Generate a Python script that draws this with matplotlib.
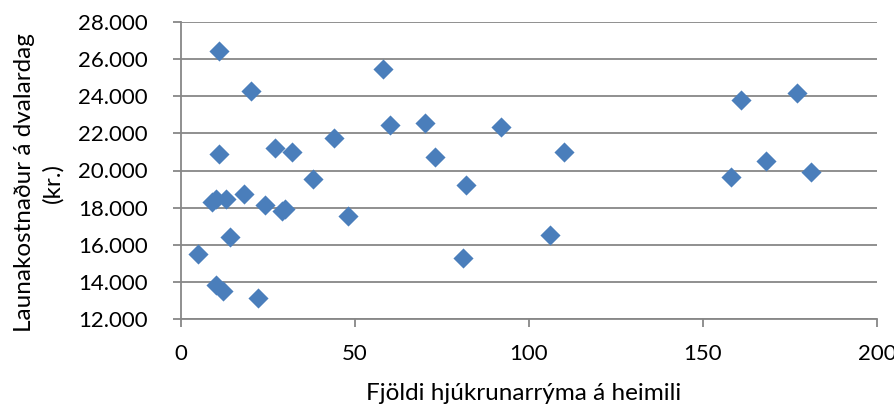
import matplotlib.pyplot as plt
from matplotlib.ticker import FuncFormatter, MultipleLocator

# Fjöldi hjúkrunarrýma og launakostnaður á dvalardag (kr.)
rooms = [11, 58, 20, 60, 70, 92, 44, 27, 32, 11, 73, 38, 82, 18, 9, 10, 13, 24,
         29, 30, 48, 14, 5, 81, 106, 10, 12, 22, 110, 161, 177, 158, 168, 181]
cost = [26450, 25450, 24300, 22450, 22550, 22350, 21750, 21200, 21000, 20900,
        20750, 19550, 19200, 18750, 18300, 18450, 18450, 18150, 17800, 17950,
        17550, 16400, 15500, 15300, 16550, 13850, 13500, 13150, 21000, 23800,
        24150, 19650, 20500, 19900]

plt.rcParams['font.family'] = ['Lato', 'DejaVu Sans']
GREY = '#878787'

fig = plt.figure(figsize=(8.95, 4.05), dpi=100)
ax = fig.add_axes([181 / 895, 1 - 319 / 405, (877 - 181) / 895, (319 - 22) / 405])

ax.scatter(rooms, cost, marker='D', s=105, color='#4A7EBB', linewidths=0, zorder=3)

ax.set_xlim(0, 200)
ax.set_ylim(12000, 28000)
ax.xaxis.set_major_locator(MultipleLocator(50))
ax.yaxis.set_major_locator(MultipleLocator(2000))
ax.yaxis.set_major_formatter(FuncFormatter(lambda v, p: f"{int(v):,}".replace(",", ".")))

ax.grid(axis='y', color=GREY, linewidth=1.3)
ax.set_axisbelow(True)
for side in ('top', 'right'):
    ax.spines[side].set_visible(False)
for side in ('left', 'bottom'):
    ax.spines[side].set_color(GREY)
    ax.spines[side].set_linewidth(1.3)
ax.tick_params(axis='both', colors=GREY, width=1.3, length=6, labelcolor='black',
               labelsize=16)
ax.tick_params(axis='x', pad=12)
ax.tick_params(axis='y', pad=18)

# axis titles placed like in the original
fig.text(524 / 895, 1 - 394 / 405, "Fjöldi hjúkrunarrýma á heimili",
         fontsize=17.5, ha='center', va='center')
fig.text(39 / 895, 1 - 183 / 405, "Launakostnaður á dvalardag\n(kr.)",
         fontsize=17.5, ha='center', va='center', rotation=90,
         multialignment='center', linespacing=1.4)

fig.savefig("out.png", dpi=100)
